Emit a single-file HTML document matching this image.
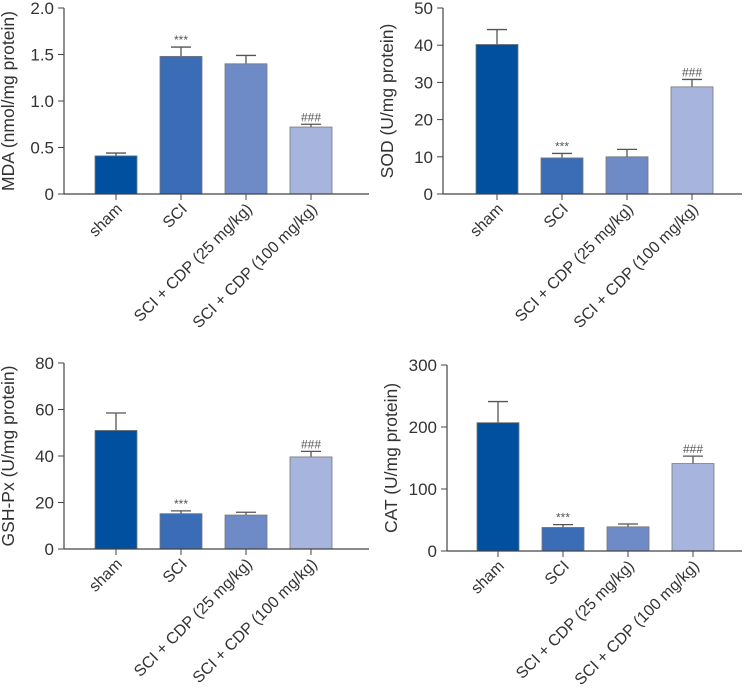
<!DOCTYPE html>
<html><head><meta charset="utf-8"><style>
html,body{margin:0;padding:0;background:#fff;}
svg{display:block;font-family:"Liberation Sans",sans-serif;}
</style></head><body>
<svg id="c" width="744" height="691" viewBox="0 0 744 691"></svg>
<script>
const categories = ["sham","SCI","SCI + CDP (25 mg/kg)","SCI + CDP (100 mg/kg)"];
const mdaValues = [0.41,1.48,1.40,0.72];
const mdaErrors = [0.03,0.10,0.09,0.03];
const sodValues = [40.2,9.7,10.0,28.8];
const sodErrors = [4.0,1.2,2.0,2.0];
const gshValues = [51,15.2,14.6,39.6];
const gshErrors = [7.5,1.2,1.2,2.4];
const catValues = [207,38,39,141];
const catErrors = [34,4.5,4.5,12];
const mdaTicks = ["0","0.5","1.0","1.5","2.0"];
const sodTicks = ["0","10","20","30","40","50"];
const gshTicks = ["0","20","40","60","80"];
const catTicks = ["0","100","200","300"];
const mdaMarks = ["","***","","###"];
const sodMarks = ["","***","","###"];
const gshMarks = ["","***","","###"];
const catMarks = ["","***","","###"];
const colors = ["#0150a0","#3b6db6","#6f8bc7","#a6b4de"];
const NS="http://www.w3.org/2000/svg";
const svg=document.getElementById('c');
function el(tag,attrs,parent){const e=document.createElementNS(NS,tag);for(const k in attrs)e.setAttribute(k,attrs[k]);(parent||svg).appendChild(e);return e;}
function panel(name,title,values,errors,ticks,marks,ax,yTop,y0,xEnd,firstCenter){
  const g=el('g',{});
  
  
  const maxV=parseFloat(ticks[ticks.length-1]);
  const yS=v=>y0-(v/maxV)*(y0-yTop);
  const xS=i=>firstCenter+i*65;
  values.forEach((v,i)=>{
    const cx=xS(i);
    const ey=yS(v+errors[i]);
    const ln=el('line',{x1:cx,x2:cx,y1:yS(v),y2:ey,stroke:'#555','stroke-width':1.3},g);
    
    
    const cap=el('line',{x1:cx-10,x2:cx+10,y1:ey,y2:ey,stroke:'#555','stroke-width':1.3},g);
    
    
    const r=el('rect',{x:cx-21,y:yS(v),width:42,height:y0-yS(v),fill:colors[i],stroke:'#777','stroke-width':0.8},g);
    
    
    if(marks[i]){
      const t=el('text',{x:cx,y:ey-3,'text-anchor':'middle','font-size':12,fill:'#555'},g);
      t.textContent=marks[i];
      
      
    }
    const tk=el('line',{x1:cx,x2:cx,y1:y0,y2:y0+6,stroke:'#444','stroke-width':1},g);
    
    
    const lx=cx+7, ly=y0+16;
    const lab=el('text',{x:lx,y:ly,'text-anchor':'end','font-size':16,fill:'#333',transform:`rotate(-45 ${lx} ${ly})`},g);
    lab.textContent=categories[i];
    
    
  });
  const ya=el('line',{x1:ax,x2:ax,y1:yTop,y2:y0,stroke:'#444','stroke-width':1.2},g);
  
  
  const xa=el('line',{x1:ax,x2:xEnd,y1:y0,y2:y0,stroke:'#444','stroke-width':1.2},g);
  
  
  ticks.forEach(t=>{
    const y=yS(parseFloat(t));
    const tl=el('line',{x1:ax-6,x2:ax,y1:y,y2:y,stroke:'#444','stroke-width':1},g);
    
    
    const tt=el('text',{x:ax-10,y:y+6,'text-anchor':'end','font-size':17,fill:'#333'},g);
    tt.textContent=t;
    
    
  });
  const tx=ax-50, ty=(yTop+y0)/2;
  const yt=el('text',{x:tx,y:ty,'text-anchor':'middle','font-size':17.5,fill:'#333',transform:`rotate(-90 ${tx} ${ty})`},g);
  yt.textContent=title;
  
  
}
panel('mda','MDA (nmol/mg protein)',mdaValues,mdaErrors,mdaTicks,mdaMarks,64,8,194,369,116);
panel('sod','SOD (U/mg protein)',sodValues,sodErrors,sodTicks,sodMarks,443,8,194,742,497);
panel('gsh','GSH-Px (U/mg protein)',gshValues,gshErrors,gshTicks,gshMarks,64,363,549,369,116);
panel('cat','CAT (U/mg protein)',catValues,catErrors,catTicks,catMarks,447,365,551,742,498);
</script>
</body></html>
